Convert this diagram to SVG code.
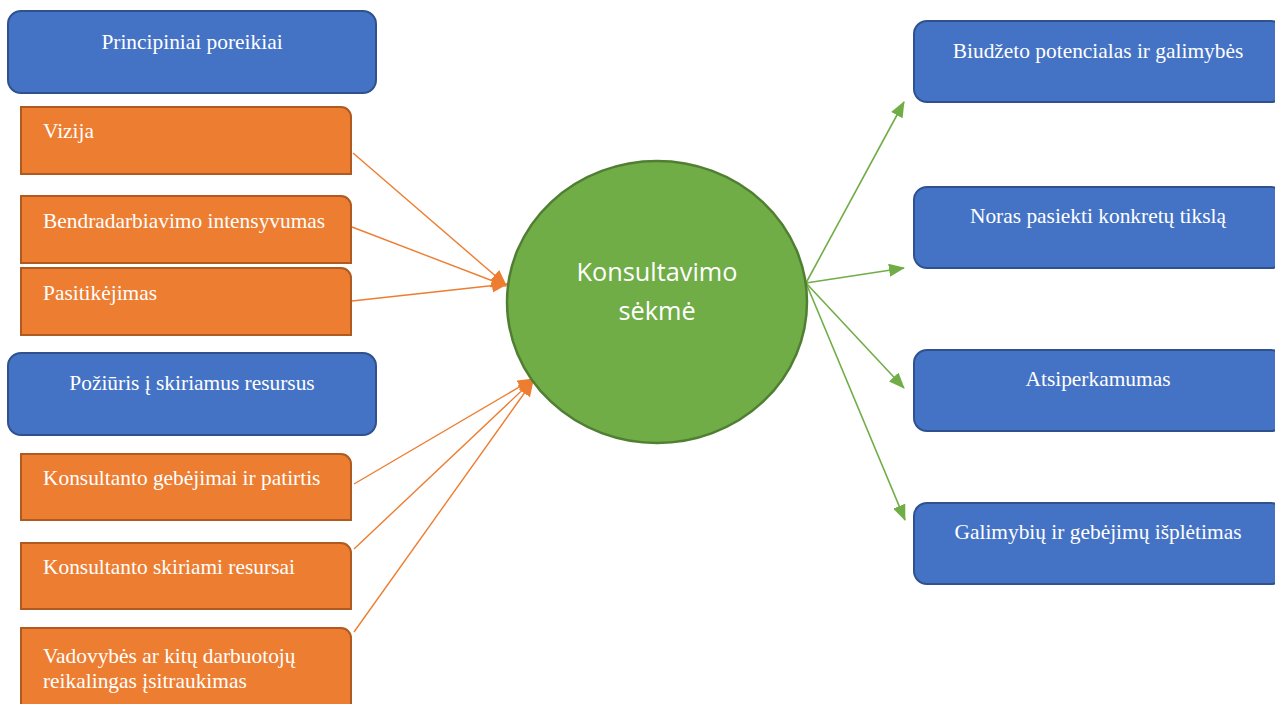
<svg xmlns="http://www.w3.org/2000/svg" width="1275" height="704" viewBox="0 0 1275 704">
  <style>
    .blue { fill: #4472C4; stroke: #2F528F; stroke-width: 2; }
    .orange { fill: #ED7D31; stroke: #AE5A21; stroke-width: 2; }
    .hub { fill: #70AD47; stroke: #507E32; stroke-width: 2.5; }
    .lbl { font-family: "Liberation Serif", "Times New Roman", serif; font-size: 21.4px; fill: #FFFFFF; }
    .mid { text-anchor: middle; }
    .hubtxt { font-family: "Open Sans", "Noto Sans", "Liberation Sans", sans-serif; font-size: 25.3px; fill: #FFFFFF; text-anchor: middle; }
    .in { stroke: #ED7D31; stroke-width: 1.4; fill: none; marker-end: url(#headO); }
    .out { stroke: #70AD47; stroke-width: 1.6; fill: none; marker-end: url(#headG); }
  </style>
  <defs>
    <marker id="headO" viewBox="0 0 16 14" refX="15" refY="7" markerWidth="16" markerHeight="14" markerUnits="userSpaceOnUse" orient="auto">
      <path d="M0,0 L16,7 L0,14 Z" fill="#ED7D31"/>
    </marker>
    <marker id="headG" viewBox="0 0 16 13" refX="15" refY="6.5" markerWidth="16" markerHeight="13" markerUnits="userSpaceOnUse" orient="auto">
      <path d="M0,0 L16,6.5 L0,13 Z" fill="#70AD47"/>
    </marker>
  </defs>

  <!-- connectors -->
  <g id="connectors">
    <line class="in" x1="353" y1="153" x2="506" y2="285"/>
    <line class="in" x1="352" y1="227" x2="506" y2="286"/>
    <line class="in" x1="352" y1="301" x2="507" y2="284"/>
    <line class="in" x1="354" y1="484" x2="533" y2="379"/>
    <line class="in" x1="354" y1="549" x2="533" y2="380"/>
    <line class="in" x1="354" y1="632" x2="533" y2="381"/>
    <line class="out" x1="806" y1="283" x2="904" y2="102"/>
    <line class="out" x1="806" y1="283" x2="904" y2="268"/>
    <line class="out" x1="806" y1="283" x2="904" y2="388"/>
    <line class="out" x1="806" y1="283" x2="905" y2="520"/>
  </g>

  <!-- left column -->
  <g id="principiniai-poreikiai">
    <rect class="blue" x="8" y="11" width="368" height="82" rx="13"/>
    <text class="lbl mid" x="192" y="49">Principiniai poreikiai</text>
  </g>
  <g id="vizija">
    <path class="orange" d="M21,107 H341 A10,10 0 0 1 351,117 V174 H21 Z"/>
    <text class="lbl" x="43" y="138">Vizija</text>
  </g>
  <g id="bendradarbiavimo-intensyvumas">
    <path class="orange" d="M21,196 H341 A10,10 0 0 1 351,206 V263 H21 Z"/>
    <text class="lbl" x="43" y="228">Bendradarbiavimo intensyvumas</text>
  </g>
  <g id="pasitikejimas">
    <path class="orange" d="M21,268 H341 A10,10 0 0 1 351,278 V335 H21 Z"/>
    <text class="lbl" x="43" y="300">Pasitikėjimas</text>
  </g>
  <g id="poziuris">
    <rect class="blue" x="8" y="353" width="368" height="82" rx="13"/>
    <text class="lbl mid" x="192" y="390">Požiūris į skiriamus resursus</text>
  </g>
  <g id="konsultanto-gebejimai">
    <path class="orange" d="M21,454 H341 A10,10 0 0 1 351,464 V520 H21 Z"/>
    <text class="lbl" x="43" y="485">Konsultanto gebėjimai ir patirtis</text>
  </g>
  <g id="konsultanto-resursai">
    <path class="orange" d="M21,543 H341 A10,10 0 0 1 351,553 V609 H21 Z"/>
    <text class="lbl" x="43" y="574">Konsultanto skiriami resursai</text>
  </g>
  <g id="vadovybes-isitraukimas">
    <path class="orange" d="M21,628 H341 A10,10 0 0 1 351,638 V712 H21 Z"/>
    <text class="lbl" x="43" y="663">Vadovybės ar kitų darbuotojų</text>
    <text class="lbl" x="43" y="688">reikalingas įsitraukimas</text>
  </g>

  <!-- centre -->
  <g id="konsultavimo-sekme">
    <ellipse class="hub" cx="657" cy="302" rx="150" ry="141"/>
    <text class="hubtxt" x="657" y="281">Konsultavimo</text>
    <text class="hubtxt" x="657" y="320">sėkmė</text>
  </g>

  <!-- right column -->
  <g id="biudzeto-potencialas">
    <rect class="blue" x="914" y="21" width="370" height="81" rx="13"/>
    <text class="lbl mid" x="1098" y="58">Biudžeto potencialas ir galimybės</text>
  </g>
  <g id="noras-pasiekti">
    <rect class="blue" x="914" y="187" width="370" height="81" rx="13"/>
    <text class="lbl mid" x="1098" y="223">Noras pasiekti konkretų tikslą</text>
  </g>
  <g id="atsiperkamumas">
    <rect class="blue" x="914" y="350" width="370" height="81" rx="13"/>
    <text class="lbl mid" x="1098" y="386">Atsiperkamumas</text>
  </g>
  <g id="galimybiu-ispletimas">
    <rect class="blue" x="914" y="503" width="370" height="81" rx="13"/>
    <text class="lbl mid" x="1098" y="539">Galimybių ir gebėjimų išplėtimas</text>
  </g>
</svg>
